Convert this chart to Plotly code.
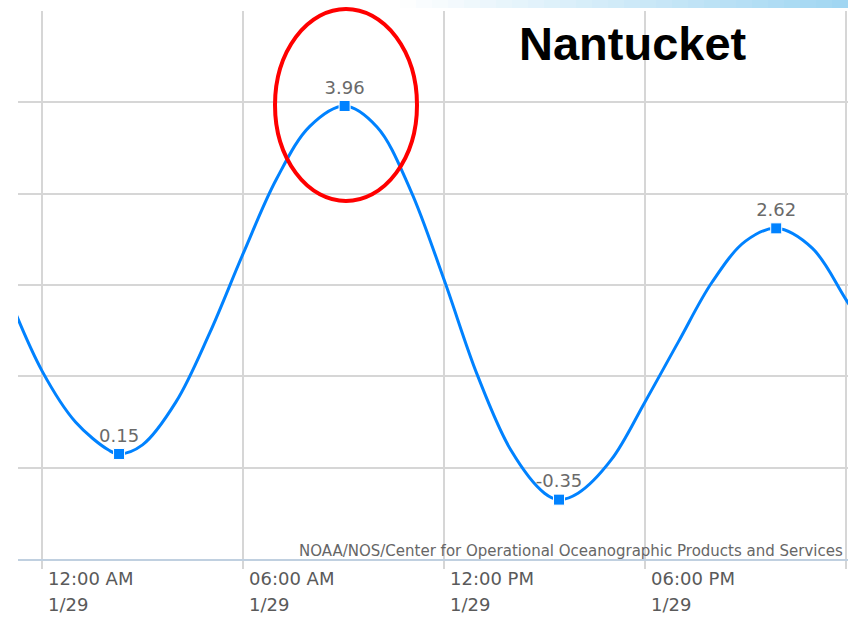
import plotly.graph_objects as go
import pandas as pd

# Predicted tide curve (feet)
curve_times = [
    "2024-01-28 23:00", "2024-01-29 00:00", "2024-01-29 01:00", "2024-01-29 02:00",
    "2024-01-29 02:18", "2024-01-29 03:00", "2024-01-29 04:00", "2024-01-29 05:00",
    "2024-01-29 06:00", "2024-01-29 07:00", "2024-01-29 08:00", "2024-01-29 09:02",
    "2024-01-29 10:00", "2024-01-29 11:00", "2024-01-29 12:00", "2024-01-29 13:00",
    "2024-01-29 14:00", "2024-01-29 15:00", "2024-01-29 15:26", "2024-01-29 16:00",
    "2024-01-29 17:00", "2024-01-29 18:00", "2024-01-29 19:00", "2024-01-29 20:00",
    "2024-01-29 21:00", "2024-01-29 21:55", "2024-01-29 23:00", "2024-01-30 00:00",
    "2024-01-30 01:00",
]
curve_values = [
    1.88, 1.06, 0.50, 0.19,
    0.15, 0.25, 0.72, 1.47,
    2.34, 3.16, 3.74, 3.96,
    3.73, 3.04, 2.06, 1.01,
    0.19, -0.28, -0.35, -0.28,
    0.09, 0.72, 1.38, 2.03,
    2.48, 2.62, 2.40, 1.84,
    1.25,
]

# High / low tide points
extreme_times = ["2024-01-29 02:18", "2024-01-29 09:02", "2024-01-29 15:26", "2024-01-29 21:55"]
extreme_values = [0.15, 3.96, -0.35, 2.62]
extreme_labels = ["0.15", "3.96", "-0.35", "2.62"]

# X axis ticks
tick_times = ["2024-01-29 00:00", "2024-01-29 06:00", "2024-01-29 12:00",
              "2024-01-29 18:00", "2024-01-30 00:00"]
tick_time_labels = ["12:00 AM", "06:00 AM", "12:00 PM", "06:00 PM"]
tick_date_labels = ["1/29", "1/29", "1/29", "1/29"]

x_start = "2024-01-28 23:17:01"
x_end = "2024-01-30 00:03:35"

BLUE = "rgb(0,130,255)"
GRID = "#d6d6d6"

fig = go.Figure()
fig.add_trace(go.Scatter(
    x=curve_times, y=curve_values, mode="lines",
    line=dict(color=BLUE, width=3, shape="spline", smoothing=1.0),
    hoverinfo="skip",
))
fig.add_trace(go.Scatter(
    x=extreme_times, y=extreme_values, mode="markers+text",
    marker=dict(symbol="square", size=11, color=BLUE, line=dict(color="white", width=1)),
    text=extreme_labels, textposition="top center",
    textfont=dict(family="DejaVu Sans", size=18, color="#6a6a6a"),
))

annotations = []
for t, lab1, lab2 in zip(tick_times, tick_time_labels, tick_date_labels):
    annotations.append(dict(x=t, y=-0.0361, xref="x", yref="paper", text=lab1,
                            xanchor="left", yanchor="middle", xshift=4, showarrow=False,
                            font=dict(family="DejaVu Sans", size=18, color="#5a5a5a")))
    annotations.append(dict(x=t, y=-0.0836, xref="x", yref="paper", text=lab2,
                            xanchor="left", yanchor="middle", xshift=4, showarrow=False,
                            font=dict(family="DejaVu Sans", size=18, color="#5a5a5a")))

annotations.append(dict(x=0.9964, y=0.015, xref="paper", yref="paper",
                        text="NOAA/NOS/Center for Operational Oceanographic Products and Services",
                        xanchor="right", yanchor="middle", showarrow=False,
                        font=dict(family="DejaVu Sans", size=15, color="#666666")))
annotations.append(dict(x=0.6012, y=0.9398, xref="paper", yref="paper", text="<b>Nantucket</b>",
                        xanchor="left", yanchor="middle", showarrow=False,
                        font=dict(family="Liberation Sans", size=47, color="black")))

shapes = []
# light gradient strip at top right
n = 28
x0p, x1p = (400 - 18) / 830, (848 - 18) / 830
for i in range(n):
    f = (i + 0.5) / n
    r = int(255 + (160 - 255) * f)
    g = int(255 + (214 - 255) * f)
    b = int(255 + (242 - 255) * f)
    shapes.append(dict(type="rect", xref="paper", yref="paper",
                       x0=x0p + (x1p - x0p) * i / n, x1=x0p + (x1p - x0p) * (i + 1) / n + 0.001,
                       y0=1 + 3 / 548, y1=1 + 11 / 548,
                       fillcolor=f"rgb({r},{g},{b})", line=dict(width=0), layer="below"))
# red ellipse highlight
shapes.append(dict(type="circle", xref="paper", yref="paper",
                   x0=(275 - 18) / 830, x1=(417 - 18) / 830,
                   y0=(559 - 201) / 548, y1=(559 - 9) / 548,
                   line=dict(color="#ff0000", width=4)))

fig.update_layout(
    width=848, height=636,
    margin=dict(l=18, r=0, t=11, b=77),
    plot_bgcolor="white", paper_bgcolor="white",
    showlegend=False,
    annotations=annotations, shapes=shapes,
    xaxis=dict(type="date", range=[x_start, x_end], tickvals=tick_times,
               showticklabels=False, showgrid=True, gridcolor=GRID, gridwidth=2,
               ticks="outside", ticklen=8, tickwidth=2, tickcolor=GRID,
               showline=True, linecolor="#c0d0e0", linewidth=2, zeroline=False),
    yaxis=dict(range=[-1, 5], tick0=0, dtick=1, showticklabels=False,
               showgrid=True, gridcolor=GRID, gridwidth=2, zeroline=False, showline=False),
)

fig.write_html("out.html", config={"displayModeBar": False},
               post_script="document.body.style.margin='0';document.body.style.overflow='hidden';")
